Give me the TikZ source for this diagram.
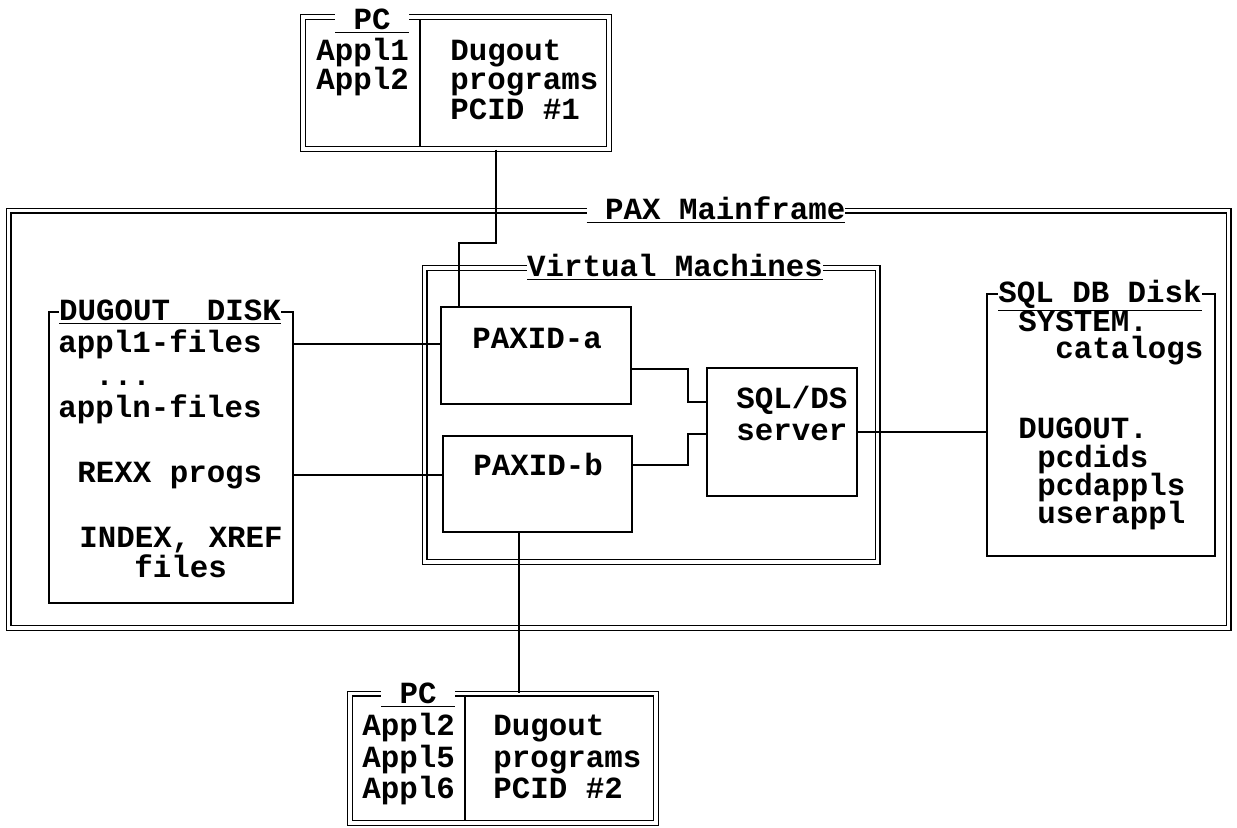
\documentclass[tikz,border=0pt]{standalone}
\usepackage{fontspec}
\setmonofont{Liberation Mono}
\usetikzlibrary{calc}

\begin{document}
\begin{tikzpicture}[x=0.5pt,y=-0.5pt,
      font=\ttfamily\bfseries\fontsize{15.4pt}{18pt}\selectfont,
      sbox/.style={draw,line width=0.9pt,inner sep=0pt},
      dbox/.style={draw,double,line width=0.7pt,double distance=1.6pt,inner sep=0pt},
      ttl/.style={fill=white,inner xsep=0pt,inner ysep=1pt,anchor=base},
      txt/.style={inner sep=0pt,anchor=base west},
      link/.style={line width=0.9pt}]
    \useasboundingbox (0,0) rectangle (1237,827);

    \node[dbox,minimum width=610pt,minimum height=208.75pt] (mf) at (618.5,419.25) {};
    \node[dbox,minimum width=226.5pt,minimum height=147pt] (vm) at (651,415) {};
    \node[dbox,minimum width=153pt,minimum height=66pt] (pcA) at (456,83) {};
    \node[dbox,minimum width=153pt,minimum height=64.75pt] (pcB) at (503,758.25) {};
    \node[sbox,minimum width=122pt,minimum height=145.5pt] (dgdisk) at (171,457.5) {};
    \node[sbox,minimum width=114pt,minimum height=131pt] (sqldisk) at (1101,425) {};
    \node[sbox,minimum width=95pt,minimum height=48.5pt] (paxa) at (536,355.5) {};
    \node[sbox,minimum width=94.5pt,minimum height=48pt] (paxb) at (537.5,484) {};
    \node[sbox,minimum width=75pt,minimum height=64pt] (sqlds) at (782,432) {};

    \coordinate (divA) at (420,0);
    \coordinate (divB) at (465,0);
    \draw[link,shorten <=1.5pt,shorten >=1.5pt] (divA |- pcA.north) -- (divA |- pcA.south);
    \draw[link,shorten <=1.5pt,shorten >=1.5pt] (divB |- pcB.north) -- (divB |- pcB.south);

    \node[ttl] (mfT) at (716,219) {\underline{\ PAX Mainframe}};
    \node[ttl] (vmT) at (675,276) {\underline{Virtual Machines}};
    \node[ttl] (pcAT) at (372,29) {\underline{\ PC\ }};
    \node[ttl] (pcBT) at (418,703) {\underline{\ PC\ }};
    \node[ttl] (dgT) at (170,320) {\underline{DUGOUT\ \ DISK}};
    \node[ttl] (sqlT) at (1100,302) {\underline{SQL DB Disk}};

    \foreach \n/\x/\y/\s in {pa1/316/60/Appl1,pa2/316/89/Appl2,
        pd1/450/60/Dugout,pd2/450/89/programs,pd3/450/119/PCID \#1,
        pb1/362/735/Appl2,pb2/362/767/Appl5,pb3/362/798/Appl6,
        pe1/493/735/Dugout,pe2/493/767/programs,pe3/493/798/PCID \#2}
      \node[txt] (\n) at (\x,\y) {\s};

    \foreach \n/\x/\y/\s in {af/58/352/appl1-files,
        an/58/417/appln-files,rx/77/482/REXX progs,
        ix/79/547/{INDEX, XREF},fl/134/577/files}
      \node[txt] (\n) at (\x,\y) {\s};
    \node[txt] (dots) at (95,385) {...};

    \foreach \n/\x/\y/\s in {sq1/1018/331/SYSTEM.,sq2/1055/358/catalogs,
        sq3/1018/438/DUGOUT.,sq4/1037/467/pcdids,sq5/1037/495/pcdappls,
        sq6/1037/523/userappl}
      \node[txt] (\n) at (\x,\y) {\s};

    \node[txt] (paxaT) at (472,348) {PAXID-a};
    \node[txt] (paxbT) at (473,475) {PAXID-b};
    \node[txt] (sqldsT) at (736,408) {SQL/DS};
    \node[txt] (sqldsT2) at (736,440) {server};

    \draw[link] ($(pcA.south)+(40,0)$) -- ++(0,93) -| ($(paxa.north west)+(19,0)$);
    \draw[link] (dgdisk.east |- af) -- (paxa.west |- af);
    \draw[link] (dgdisk.east |- rx) -- (paxb.west |- rx);
    \draw[link] ($(paxa.east)+(0,13.5)$) -- ++(56,0) |- ($(sqlds.west)+(0,-30)$);
    \draw[link] ($(paxb.east)+(0,-19)$) -- ++(55,0) |- ($(sqlds.west)+(0,2)$);
    \draw[link] (sqlds.east) -- (sqlds.east -| sqldisk.west);
    \coordinate (drop) at ($(paxb.south)+(-18.5,0)$);
    \draw[link] (drop) -- (drop |- pcB.north);
  \end{tikzpicture}
\end{document}
